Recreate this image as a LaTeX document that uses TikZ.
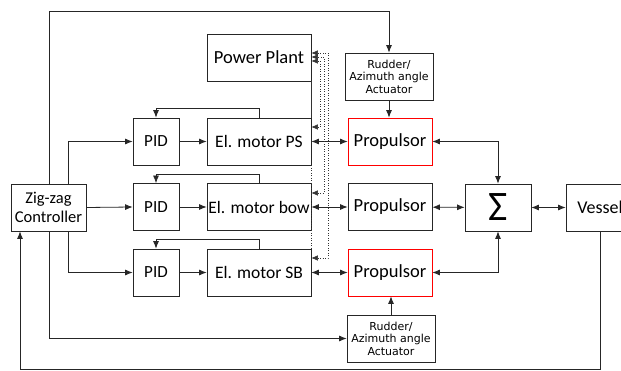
\documentclass[tikz,border=0pt]{standalone}
\usepackage{fontspec}
\setmainfont{Carlito}
\newfontfamily\dejavu{DejaVu Sans}
\usetikzlibrary{arrows.meta}
\begin{document}
\begin{tikzpicture}[x=1pt,y=-1pt,
  line width=0.8pt,
  box/.style={draw=black!85, line width=0.8pt, inner sep=0pt, align=center,
    font=\fontsize{16.5}{19}\selectfont, minimum height=47pt},
  big/.style={font=\fontsize{18.5}{21}\selectfont},
  mid/.style={font=\fontsize{17.5}{20}\selectfont},
  redbox/.style={box, big, draw=red},
  small/.style={box, font=\dejavu\fontsize{11}{12.5}\selectfont},
  arr/.style={draw=black!85, -{Latex[length=7.5pt,width=6pt]}},
  darr/.style={draw=black!85, {Latex[length=7.5pt,width=6pt]}-{Latex[length=7.5pt,width=6pt]}},
  pow/.style={draw=black!80, line width=0.5pt, dotted, {Latex[length=6.5pt,width=5.5pt]}-{Latex[length=6.5pt,width=5.5pt]}}]
\clip (0,0) rectangle (621,371);
\fill[white] (0,0) rectangle (621,371);

% nodes
\node[box, big, minimum width=104pt] (pp) at (259,57.5) {Power Plant};
\node[small, minimum width=88pt] (rudtop) at (389,76.5) {Rudder/\\Azimuth angle\\Actuator};
\node[small, minimum width=88pt] (rudbot) at (391,338.5) {Rudder/\\Azimuth angle\\Actuator};

\node[box, font=\fontsize{17}{19}\selectfont, minimum width=46pt] (pidps) at (156,141.5) {PID};
\node[box, font=\fontsize{17}{19}\selectfont, minimum width=46pt] (pidbow) at (156,207) {PID};
\node[box, font=\fontsize{17}{19}\selectfont, minimum width=46pt] (pidsb) at (156,272.5) {PID};

\node[box, mid, minimum width=104pt] (motps) at (259,141.5) {El. motor PS};
\node[box, mid, minimum width=104pt] (motbow) at (259,207) {El. motor bow};
\node[box, mid, minimum width=104pt] (motsb) at (259,272.5) {El. motor SB};

\node[redbox, minimum width=84pt] (propps) at (390,141.5) {Propulsor};
\node[box, big, minimum width=84pt] (propbow) at (390,207) {Propulsor};
\node[redbox, minimum width=84pt] (propsb) at (390,272.5) {Propulsor};

\node[box, minimum width=66pt, font=\fontsize{42}{42}\selectfont] (sig) at (498,207.5) {Σ};
\node[box, font=\fontsize{18}{20}\selectfont, minimum width=68pt] (ves) at (600,207.5) {Vessel};
\node[box, minimum width=75pt] (ctrl) at (48.5,207.5) {Zig-zag\\Controller};

% helper coordinates
\coordinate (c1) at (68,0);
\coordinate (c2) at (49,11);
\coordinate (c3) at (49,0);
\coordinate (cb) at (20,369);

% controller outputs
\draw[arr] (ctrl.north -| c1) |- (pidps.west);
\draw[arr] (ctrl.east) -- (pidbow.west);
\draw[arr] (ctrl.south -| c1) |- (pidsb.west);
\draw[arr] (ctrl.north -| c2) -- (c2) -| (rudtop.north);
\draw[arr] (ctrl.south -| c3) |- (rudbot.west);

% rudders to propulsors
\draw[arr] (rudtop.south) -- (rudtop.south |- propps.north);
\draw[arr] (rudbot.north) -- (rudbot.north |- propsb.south);

% PID loops
\foreach \p/\m in {pidps/motps, pidbow/motbow, pidsb/motsb}{
  \draw[arr] (\p) -- (\m);
  \draw[arr] (\m.north) -- ++(0,-9) -| (\p.north);
}

% motors <-> propulsors
\draw[darr] (motps) -- (propps);
\draw[darr] (motbow) -- (propbow);
\draw[darr] (motsb) -- (propsb);

% propulsors <-> sum
\draw[darr] (propps.east) -| (sig.north);
\draw[darr] (propbow) -- (sig);
\draw[darr] (propsb.east) -| (sig.south);
\draw[darr] (sig) -- (ves);

% vessel feedback
\draw[arr] (ves.south) |- (cb) -- (ctrl.south -| cb);

% power plant links
\draw[black!80, line width=0.5pt] (pp.south east) -- (motps.north east);
\draw[black!80, line width=0.5pt, dotted] (motps.south east) -- (motsb.north east);
\coordinate (p1) at (320,127); \coordinate (q1) at (320,61);
\coordinate (p2) at (324,193); \coordinate (q2) at (324,57);
\coordinate (p3) at (328,258); \coordinate (q3) at (328,53);
\draw[pow] (motps.east |- p1) -- (p1) -- (q1) -- (pp.east |- q1);
\draw[pow] (motbow.east |- p2) -- (p2) -- (q2) -- (pp.east |- q2);
\draw[pow] (motsb.east |- p3) -- (p3) -- (q3) -- (pp.east |- q3);
\end{tikzpicture}
\end{document}
